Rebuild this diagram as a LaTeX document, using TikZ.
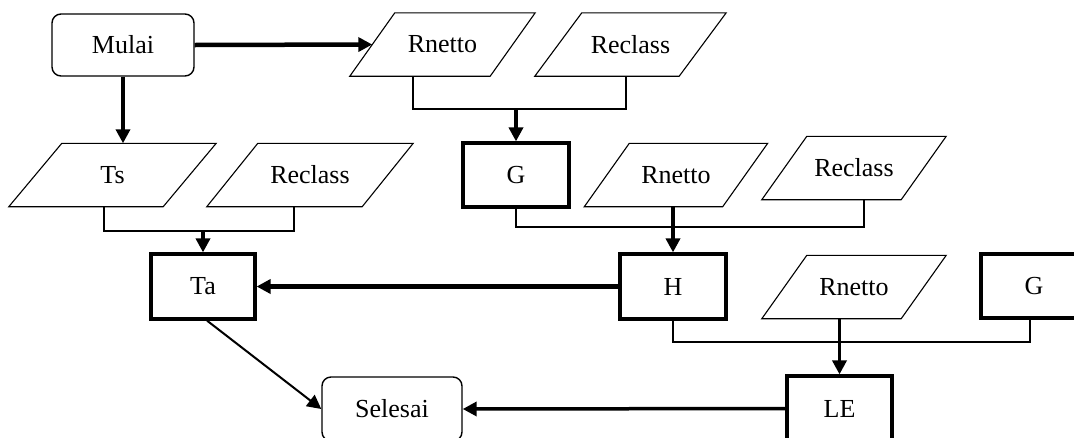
\documentclass[tikz,border=0pt]{standalone}
\usepackage{fontspec}
\setmainfont{Liberation Serif}
\usetikzlibrary{arrows.meta}
\newcommand\parabox[6]{%
  \node[pnode, minimum width=#4] (#1) at (#2,#3) {#6};
  \draw[pline] ([xshift=#5]#1.north west) -- ([xshift=#5]#1.north east)
    -- ([xshift=-#5]#1.south east) -- ([xshift=-#5]#1.south west) -- cycle;}
\begin{document}
\begin{tikzpicture}[x=1pt,y=-1pt,
  every node/.style={font=\fontsize{26}{30}\selectfont, inner sep=0pt},
  pnode/.style={minimum height=63pt, draw=none},
  pline/.style={line width=1.1pt, line join=miter},
  roundbox/.style={draw, rounded corners=9pt, line width=1.4pt},
  procbox/.style={draw, line width=3.2pt},
  bline/.style={line width=1.1pt},
  tip/.style={-{Triangle[length=14pt,width=14pt]}},
  thickarr/.style={tip, line width=4.5pt},
  midarr/.style={tip, line width=3.5pt},
  thinarr/.style={tip, line width=2pt}]
\clip (0,0) rectangle (1074,437);
\fill[white] (0,0) rectangle (1074,437);

% terminals
\node[roundbox, minimum width=142pt, minimum height=62pt] (mulai) at (123,45) {Mulai};
\node[roundbox, minimum width=140pt, minimum height=64pt] (selesai) at (392,409) {Selesai};

% inputs
\parabox{rn1}{442.5}{44.5}{140pt}{22.5pt}{Rnetto}
\parabox{rc1}{630.5}{44.5}{144pt}{23.5pt}{Reclass}
\parabox{ts}{112.5}{175}{154pt}{26.5pt}{Ts}
\parabox{rc2}{310}{175}{155pt}{25.5pt}{Reclass}
\parabox{rn2}{676}{175}{138pt}{22.5pt}{Rnetto}
\parabox{rc3}{854}{168}{139pt}{22.5pt}{Reclass}
\parabox{rn3}{854}{287}{139pt}{22.5pt}{Rnetto}

% processes
\node[procbox, minimum width=106pt, minimum height=64pt] (g1) at (516,175) {G};
\node[procbox, minimum width=104pt, minimum height=65pt] (ta) at (203,286.5) {Ta};
\node[procbox, minimum width=106pt, minimum height=65pt] (h) at (673,286.5) {H};
\node[procbox, minimum width=106pt, minimum height=64pt] (g2) at (1034,286) {G};
\node[procbox, minimum width=105pt, minimum height=65pt] (le) at (839.5,408.5) {LE};

% junction points
\coordinate (j1) at (516,109);
\coordinate (j2) at (203,231);
\coordinate (j3) at (673,227);
\coordinate (j4) at (840,342);

% brackets
\draw[bline] ([xshift=-29.5pt]rn1.south) |- (j1) -| ([xshift=-4.5pt]rc1.south);
\draw[bline] ([xshift=-8.5pt]ts.south) |- (j2) -| ([xshift=-16pt]rc2.south);
\draw[bline] (g1.south) |- (j3) -| ([xshift=10pt]rc3.south);
\draw[bline] (h.south) |- (j4) -| ([xshift=-4pt]g2.south);

% arrows
\draw[thickarr] (mulai.east) -- (rn1.west);
\draw[midarr] (mulai.south) -- (mulai.south |- ts.north);
\draw[midarr] (j1) -- (g1.north);
\draw[midarr] (j2) -- (ta.north);
\draw[midarr] (h.north |- rn2.south) -- (h.north);
\draw[midarr] (le.north |- rn3.south) -- (le.north);
\draw[thickarr] (h.west) -- (ta.east);
\draw[midarr] (le.west) -- (selesai.east);
\draw[thinarr] ([xshift=4pt]ta.south) -- (selesai.west);
\end{tikzpicture}
\end{document}
